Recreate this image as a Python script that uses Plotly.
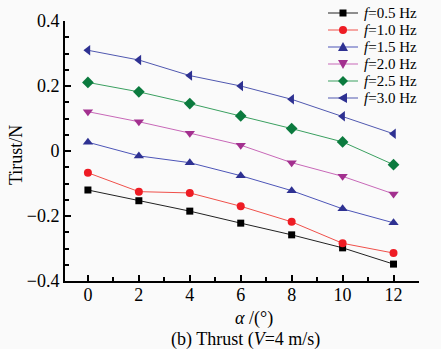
import plotly.graph_objects as go

# angle of attack (deg)
alpha = [0, 2, 4, 6, 8, 10, 12]

# thrust (N) for each flapping frequency
thrust_f05 = [-0.120, -0.153, -0.185, -0.222, -0.258, -0.298, -0.348]
thrust_f10 = [-0.067, -0.125, -0.129, -0.170, -0.218, -0.284, -0.314]
thrust_f15 = [0.027, -0.015, -0.036, -0.076, -0.122, -0.178, -0.221]
thrust_f20 = [0.121, 0.090, 0.055, 0.018, -0.036, -0.078, -0.132]
thrust_f25 = [0.211, 0.182, 0.146, 0.108, 0.069, 0.028, -0.042]
thrust_f30 = [0.310, 0.280, 0.232, 0.200, 0.159, 0.107, 0.053]

freq_labels = ["0.5", "1.0", "1.5", "2.0", "2.5", "3.0"]
series = [thrust_f05, thrust_f10, thrust_f15, thrust_f20, thrust_f25, thrust_f30]
marker_colors = ["#000000", "#ee1c24", "#2e3192", "#a3308f", "#0b7a3e", "#2e3192"]
line_colors = ["#222222", "#f0504a", "#4d55b8", "#c868b8", "#3aa060", "#5058b0"]
symbols = ["square", "circle", "triangle-up", "triangle-down", "diamond", "triangle-left"]
sizes = [7, 8, 9, 9, 9, 9]

FONT = "Liberation Serif, Times New Roman, serif"
W, H = 441, 349
ML, MR, MT, MB = 65, 22, 21, 68
PW, PH = W - ML - MR, H - MT - MB


def px_x(px):
    return (px - ML) / PW


def px_y(py):
    return (H - MB - py) / PH


fig = go.Figure()
for lab, ys, mc, lc, sym, sz in zip(freq_labels, series, marker_colors, line_colors, symbols, sizes):
    fig.add_trace(go.Scatter(
        x=alpha, y=ys, mode="lines+markers",
        name=f"<i>f</i>={lab} Hz",
        line=dict(color=lc, width=1),
        marker=dict(symbol=sym, size=sz, color=mc),
        showlegend=False,
    ))

# compact legend key: line + marker shapes, labels as one multi-line text block
glyph_paths = {
    "triangle-up": "M -5,-4 L 5,-4 L 0,5 Z",
    "triangle-down": "M -5,4 L 5,4 L 0,-5 Z",
    "diamond": "M 0,-5 L 5,0 L 0,5 L -5,0 Z",
    "triangle-left": "M 4,-5 L 4,5 L -5,0 Z",
}
shapes = []
row_y0, row_dy = 13, 17
for i, (mc, lc, sym) in enumerate(zip(marker_colors, line_colors, symbols)):
    ry = px_y(row_y0 + i * row_dy)
    cx = px_x(343)
    shapes.append(dict(type="line", xref="paper", yref="paper",
                       x0=px_x(328), x1=px_x(358), y0=ry, y1=ry,
                       line=dict(color=lc, width=1)))
    common = dict(xref="paper", yref="paper", xsizemode="pixel", ysizemode="pixel",
                  xanchor=cx, yanchor=ry, fillcolor=mc, line=dict(width=0))
    if sym == "square":
        shapes.append(dict(type="rect", x0=-3.5, x1=3.5, y0=-3.5, y1=3.5, **common))
    elif sym == "circle":
        shapes.append(dict(type="circle", x0=-4, x1=4, y0=-4, y1=4, **common))
    else:
        shapes.append(dict(type="path", path=glyph_paths[sym], **common))

legend_text = "<br>".join(
    f"<span style='font-size:15px'><i>f</i>={lab} Hz</span>" for lab in freq_labels
)

annotations = [
    dict(text=legend_text, xref="paper", yref="paper",
         x=px_x(363), y=px_y(row_y0 + 2.5 * row_dy), xanchor="left", yanchor="middle",
         align="left", showarrow=False, borderpad=0,
         font=dict(family=FONT, size=row_dy / 1.3, color="#000000")),
    dict(text="Tirust/N", textangle=-90, xref="paper", yref="paper",
         x=px_x(16), y=px_y(155), xanchor="center", yanchor="middle",
         showarrow=False, font=dict(family=FONT, size=18, color="#000000")),
    dict(text="<i>α</i> /(°)", xref="paper", yref="paper",
         x=px_x(254), y=px_y(318), xanchor="center", yanchor="middle",
         showarrow=False, font=dict(family=FONT, size=18, color="#000000")),
    dict(text="(b) Thrust (<i>V</i>=4 m/s)", xref="paper", yref="paper",
         x=px_x(245), y=px_y(339), xanchor="center", yanchor="middle",
         showarrow=False, font=dict(family=FONT, size=18, color="#000000")),
]

fig.update_layout(
    width=W, height=H,
    margin=dict(l=ML, r=MR, t=MT, b=MB),
    paper_bgcolor="#fafafa", plot_bgcolor="#fafafa",
    font=dict(family=FONT, size=18, color="#000000"),
    showlegend=False,
    shapes=shapes,
    annotations=annotations,
    xaxis=dict(
        range=[-0.9, 13], dtick=2, tick0=0,
        showline=True, linecolor="#000000", linewidth=2,
        ticks="inside", ticklen=6, tickwidth=2, tickcolor="#000000",
        minor=dict(dtick=1, ticks="inside", ticklen=4, tickwidth=1.5, tickcolor="#000000"),
        showgrid=False, zeroline=False, ticklabelstandoff=-4,
        tickfont=dict(family=FONT, size=18, color="#000000"),
    ),
    yaxis=dict(
        range=[-0.4, 0.4], dtick=0.2, tick0=0,
        showline=True, linecolor="#000000", linewidth=2,
        ticks="inside", ticklen=6, tickwidth=2, tickcolor="#000000",
        minor=dict(dtick=0.05, ticks="inside", ticklen=4, tickwidth=1.5, tickcolor="#000000"),
        showgrid=False, zeroline=False,
        tickfont=dict(family=FONT, size=18, color="#000000"),
    ),
)

fig.write_html("out.html")
